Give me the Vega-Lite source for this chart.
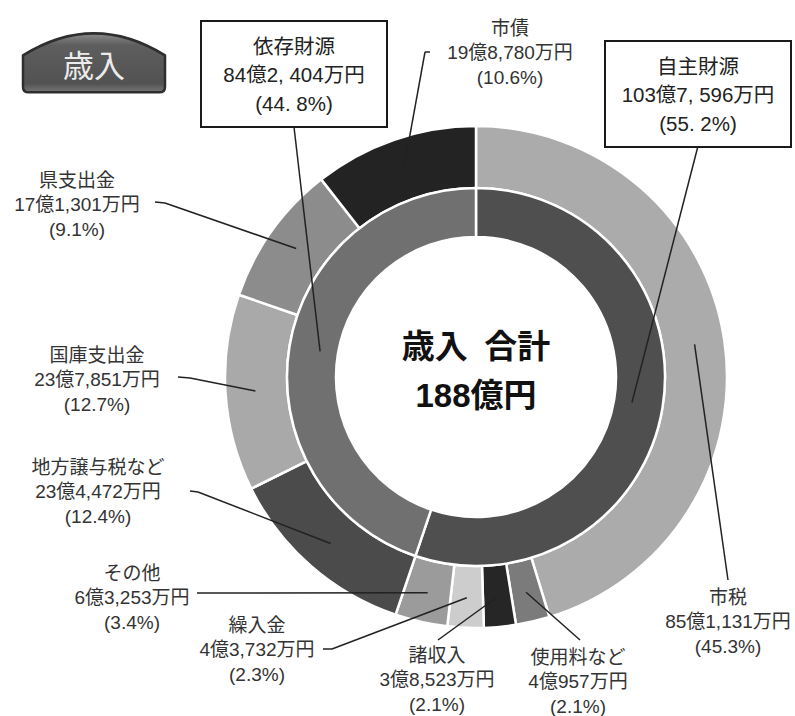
{
  "$schema": "https://vega.github.io/schema/vega-lite/v6.json",
  "width": 638,
  "height": 678,
  "autosize": {"type": "none"},
  "padding": {"left": 157, "top": 38, "right": 0, "bottom": 0},
  "background": "#ffffff",
  "config": {"view": {"stroke": null}, "font": "Liberation Sans, Noto Sans CJK JP"},
  "layer": [
    {
      "data": {
        "values": [
          {"id": 0, "ring": "outer", "name": "市税", "amount": 851131, "amountText": "85億1,131万円", "pctText": "(45.3%)"},
          {"id": 1, "ring": "outer", "name": "使用料など", "amount": 40957, "amountText": "4億957万円", "pctText": "(2.1%)"},
          {"id": 2, "ring": "outer", "name": "諸収入", "amount": 38523, "amountText": "3億8,523万円", "pctText": "(2.1%)"},
          {"id": 3, "ring": "outer", "name": "繰入金", "amount": 43732, "amountText": "4億3,732万円", "pctText": "(2.3%)"},
          {"id": 4, "ring": "outer", "name": "その他", "amount": 63253, "amountText": "6億3,253万円", "pctText": "(3.4%)"},
          {"id": 5, "ring": "outer", "name": "地方譲与税など", "amount": 234472, "amountText": "23億4,472万円", "pctText": "(12.4%)"},
          {"id": 6, "ring": "outer", "name": "国庫支出金", "amount": 237851, "amountText": "23億7,851万円", "pctText": "(12.7%)"},
          {"id": 7, "ring": "outer", "name": "県支出金", "amount": 171301, "amountText": "17億1,301万円", "pctText": "(9.1%)"},
          {"id": 8, "ring": "outer", "name": "市債", "amount": 198780, "amountText": "19億8,780万円", "pctText": "(10.6%)"},
          {"id": 9, "ring": "inner", "name": "自主財源", "amount": 1037596, "amountText": "103億7, 596万円", "pctText": "(55. 2%)"},
          {"id": 10, "ring": "inner", "name": "依存財源", "amount": 842404, "amountText": "84億2, 404万円", "pctText": "(44. 8%)"}
        ]
      },
      "transform": [
        {"window": [{"op": "sum", "field": "amount", "as": "cum"}], "sort": [{"field": "id", "order": "ascending"}], "groupby": ["ring"], "frame": [null, 0]},
        {"joinaggregate": [{"op": "sum", "field": "amount", "as": "total"}], "groupby": ["ring"]},
        {"calculate": "2*PI*(datum.cum-datum.amount/2)/datum.total", "as": "mid"},
        {"calculate": "datum.ring==='outer'?221:158", "as": "lr"},
        {"calculate": "datum.lr*sin(datum.mid)", "as": "sx"},
        {"calculate": "datum.lr*cos(datum.mid)", "as": "sy"},
        {"calculate": "[252,102,-39,-219,-344,-378,-379,-399,34,222,-182][datum.id]", "as": "lx"},
        {"calculate": "[-245,-305,-303,-273,-221,-115,-3,172,324,281,301][datum.id]", "as": "ly"},
        {"calculate": "[252,104,-38,-153,-279,-286,-298,-321,-46,222,-182][datum.id]", "as": "ex"},
        {"calculate": "[-203,-263,-263,-272,-216,-114,0,175,325,231,250][datum.id]", "as": "ey"},
        {"calculate": "[252,104,-38,-144,-279,-278,-286,-311,-51,222,-182][datum.id]", "as": "kx"},
        {"calculate": "[-203,-263,-263,-272,-216,-115,-1,174,325,231,250][datum.id]", "as": "ky"},
        {"calculate": "datum.name+'\\n'+datum.amountText+'\\n'+datum.pctText", "as": "label"}
      ],
      "layer": [
        {
          "transform": [{"filter": "datum.ring==='outer'"}],
          "mark": {"type": "arc", "radius": 251, "radius2": 189, "stroke": "#ffffff", "strokeWidth": 2.5},
          "encoding": {
            "theta": {"field": "amount", "type": "quantitative", "stack": true},
            "order": {"field": "id", "type": "quantitative"},
            "color": {
              "field": "name", "type": "nominal", "legend": null,
              "scale": {
                "domain": ["市税", "使用料など", "諸収入", "繰入金", "その他", "地方譲与税など", "国庫支出金", "県支出金", "市債", "自主財源", "依存財源"],
                "range": ["#ababab", "#7b7b7b", "#262626", "#cdcdcd", "#9b9b9b", "#4b4b4b", "#a9a9a9", "#8c8c8c", "#232323", "#4f4f4f", "#707070"]
              }
            }
          }
        },
        {
          "transform": [{"filter": "datum.ring==='inner'"}],
          "mark": {"type": "arc", "radius": 189, "radius2": 140, "stroke": "#ffffff", "strokeWidth": 2.5},
          "encoding": {
            "theta": {"field": "amount", "type": "quantitative", "stack": true},
            "order": {"field": "id", "type": "quantitative"},
            "color": {"field": "name", "type": "nominal", "legend": null}
          }
        },
        {
          "mark": {"type": "rule", "stroke": "#222222", "strokeWidth": 1.5},
          "encoding": {
            "x": {"field": "sx", "type": "quantitative", "scale": {"domain": [-319, 319], "nice": false, "zero": false}, "axis": null},
            "y": {"field": "sy", "type": "quantitative", "scale": {"domain": [-339, 339], "nice": false, "zero": false}, "axis": null},
            "x2": {"field": "kx"},
            "y2": {"field": "ky"}
          }
        },
        {
          "mark": {"type": "rule", "stroke": "#222222", "strokeWidth": 1.5},
          "encoding": {
            "x": {"field": "kx", "type": "quantitative", "scale": {"domain": [-319, 319], "nice": false, "zero": false}, "axis": null},
            "y": {"field": "ky", "type": "quantitative", "scale": {"domain": [-339, 339], "nice": false, "zero": false}, "axis": null},
            "x2": {"field": "ex"},
            "y2": {"field": "ey"}
          }
        },
        {
          "transform": [
            {"filter": "datum.ring==='inner'"},
            {"calculate": "datum.lx-93", "as": "bx1"},
            {"calculate": "datum.lx+93", "as": "bx2"},
            {"calculate": "datum.ly+55", "as": "by1"},
            {"calculate": "datum.ly-51", "as": "by2"}
          ],
          "mark": {"type": "rect", "fill": "#ffffff", "stroke": "#1a1a1a", "strokeWidth": 2},
          "encoding": {
            "x": {"field": "bx1", "type": "quantitative", "scale": {"domain": [-319, 319], "nice": false, "zero": false}, "axis": null},
            "y": {"field": "by1", "type": "quantitative", "scale": {"domain": [-339, 339], "nice": false, "zero": false}, "axis": null},
            "x2": {"field": "bx2"},
            "y2": {"field": "by2"}
          }
        },
        {
          "transform": [{"filter": "datum.ring==='outer'"}],
          "mark": {"type": "text", "align": "center", "baseline": "middle", "fontSize": 19, "lineHeight": 24.5, "lineBreak": "\n", "dy": -24.5, "fill": "#333333"},
          "encoding": {
            "x": {"field": "lx", "type": "quantitative", "scale": {"domain": [-319, 319], "nice": false, "zero": false}, "axis": null},
            "y": {"field": "ly", "type": "quantitative", "scale": {"domain": [-339, 339], "nice": false, "zero": false}, "axis": null},
            "text": {"field": "label", "type": "nominal"}
          }
        },
        {
          "transform": [{"filter": "datum.ring==='inner'"}],
          "mark": {"type": "text", "align": "center", "baseline": "middle", "fontSize": 20.5, "lineHeight": 28.5, "lineBreak": "\n", "dy": -28.5, "fill": "#222222"},
          "encoding": {
            "x": {"field": "lx", "type": "quantitative", "scale": {"domain": [-319, 319], "nice": false, "zero": false}, "axis": null},
            "y": {"field": "ly", "type": "quantitative", "scale": {"domain": [-339, 339], "nice": false, "zero": false}, "axis": null},
            "text": {"field": "label", "type": "nominal"}
          }
        }
      ]
    },
    {
      "data": {"values": [{"t": "歳入\u2002合計\n188億円"}]},
      "mark": {"type": "text", "align": "center", "baseline": "middle", "fontSize": 33, "fontWeight": "bold", "lineHeight": 49, "lineBreak": "\n", "dy": -29, "fill": "#111111"},
      "encoding": {"text": {"field": "t", "type": "nominal"}}
    },
    {
      "data": {"values": [{"t": "歳入"}]},
      "layer": [
        {
          "mark": {
            "type": "point",
            "shape": "M -1 -0.1 Q 0 -0.72 1 -0.1 L 1 0.34 Q 1 0.42 0.92 0.42 L -0.92 0.42 Q -1 0.42 -1 0.34 Z",
            "size": 20164,
            "filled": true,
            "opacity": 1,
            "fill": {"gradient": "linear", "x1": 0, "y1": 0, "x2": 0, "y2": 1, "stops": [{"offset": 0, "color": "#8a8a8a"}, {"offset": 0.2, "color": "#5e5e5e"}, {"offset": 0.85, "color": "#525252"}, {"offset": 1, "color": "#777777"}]},
            "stroke": "#2e2e2e",
            "strokeWidth": 2.5
          },
          "encoding": {
            "x": {"datum": -382, "type": "quantitative", "scale": {"domain": [-319, 319], "nice": false, "zero": false}, "axis": null},
            "y": {"datum": 314.5, "type": "quantitative", "scale": {"domain": [-339, 339], "nice": false, "zero": false}, "axis": null}
          }
        },
        {
          "mark": {"type": "text", "align": "center", "baseline": "middle", "fontSize": 31, "fill": "#ececec"},
          "encoding": {
            "x": {"datum": -382, "type": "quantitative", "scale": {"domain": [-319, 319], "nice": false, "zero": false}, "axis": null},
            "y": {"datum": 309, "type": "quantitative", "scale": {"domain": [-339, 339], "nice": false, "zero": false}, "axis": null},
            "text": {"field": "t", "type": "nominal"}
          }
        }
      ]
    }
  ]
}
